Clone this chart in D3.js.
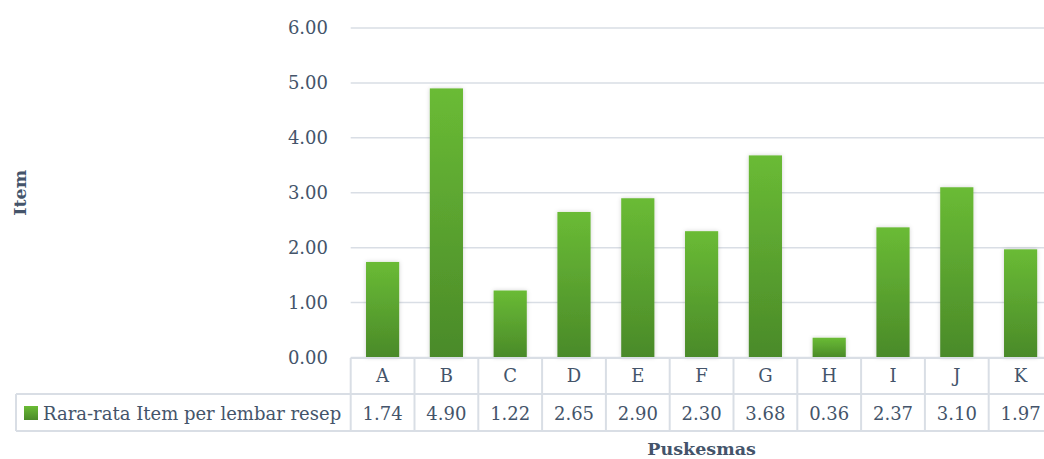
<!DOCTYPE html>
<html><head><meta charset="utf-8">
<script src="https://cdn.jsdelivr.net/npm/d3@7"></script>
<style>
html,body{margin:0;padding:0;background:#fff;overflow:hidden}
svg{display:block}
text{font-family:"Palatino Linotype","Book Antiqua",Palatino,"DejaVu Serif",serif;fill:#44546a}
</style></head><body>
<svg id="c" width="1044" height="459"></svg>
<script>
const categories = ["A","B","C","D","E","F","G","H","I","J","K"];
const values = [1.74,4.90,1.22,2.65,2.90,2.30,3.68,0.36,2.37,3.10,1.97];
const yTicks = [0,1,2,3,4,5,6];
const seriesName = "Rara-rata Item per lembar resep";
const yTitle = "Item";
const xTitle = "Puskesmas";

const svg = d3.select("#c");
const FS = 18;
const pL = 350.7, pR = 1052.5, pT = 28, pB = 357.5;
const x = d3.scaleBand().domain(categories).range([pL, pR]).paddingInner(0.48).paddingOuter(0.24);
const xc = d3.scaleBand().domain(categories).range([pL, pR]);
const y = d3.scaleLinear().domain([0,6]).range([pB, pT]);
const grid = "#d9dee5";

const defs = svg.append("defs");
const g = defs.append("linearGradient").attr("id","bg").attr("x1",0).attr("y1",0).attr("x2",0).attr("y2",1);
g.append("stop").attr("offset","0%").attr("stop-color","#6abb35");
g.append("stop").attr("offset","100%").attr("stop-color","#4a8a29");
const f = defs.append("filter").attr("id","sh").attr("x","-30%").attr("y","-10%").attr("width","160%").attr("height","120%");
f.append("feDropShadow").attr("dx",0).attr("dy",0).attr("stdDeviation",2).attr("flood-color","#000").attr("flood-opacity",0.18);

svg.append("g").selectAll("line").data(yTicks).join("line")
  .attr("x1", pL).attr("x2", pR).attr("y1", d=>y(d)).attr("y2", d=>y(d))
  .attr("stroke", grid).attr("stroke-width", 1.5);
svg.append("g").selectAll("text").data(yTicks).join("text")
  .attr("x", 328).attr("y", d=>y(d)).attr("dy","0.35em").attr("text-anchor","end")
  .attr("font-size", FS).text(d=>d3.format(".2f")(d));

svg.append("g").selectAll("rect").data(values).join("rect")
  .attr("x", (d,i)=>x(categories[i])).attr("width", x.bandwidth())
  .attr("y", d=>y(d)).attr("height", d=>y(0)-y(d))
  .attr("fill","url(#bg)").attr("filter","url(#sh)");

const r1 = 358, r2 = 394, r3 = 431, legL = 16;
const tb = svg.append("g").attr("stroke", grid).attr("stroke-width", 2).attr("fill","none");
tb.append("line").attr("x1", pL).attr("x2", pR).attr("y1", r1).attr("y2", r1);
tb.append("line").attr("x1", legL).attr("x2", pR).attr("y1", r2).attr("y2", r2);
tb.append("line").attr("x1", legL).attr("x2", pR).attr("y1", r3).attr("y2", r3);
tb.append("line").attr("x1", legL).attr("x2", legL).attr("y1", r2).attr("y2", r3);
tb.selectAll("line.v").data(categories.concat(["_end"])).join("line").attr("class","v")
  .attr("x1", (d,i)=> i<categories.length ? xc(d) : pR)
  .attr("x2", (d,i)=> i<categories.length ? xc(d) : pR)
  .attr("y1", r1).attr("y2", r3);

svg.append("g").selectAll("text").data(categories).join("text")
  .attr("x", d=>xc(d)+xc.bandwidth()/2).attr("y", 382).attr("text-anchor","middle")
  .attr("font-size", FS).text(d=>d);
svg.append("g").selectAll("text").data(values).join("text")
  .attr("x", (d,i)=>xc(categories[i])+xc.bandwidth()/2).attr("y", 420).attr("text-anchor","middle")
  .attr("font-size", FS).text(d=>d3.format(".2f")(d));

svg.append("rect").attr("x",24).attr("y",406).attr("width",14).attr("height",14).attr("fill","url(#bg)");
svg.append("text").attr("x",43).attr("y",420).attr("font-size",FS).text(seriesName);

svg.append("text").attr("transform",`translate(26,${(pT+pB)/2}) rotate(-90)`)
  .attr("text-anchor","middle").attr("font-weight","bold").attr("font-size",17.5).text(yTitle);
svg.append("text").attr("x",(pL+pR)/2).attr("y",455).attr("text-anchor","middle")
  .attr("font-weight","bold").attr("font-size",17.5).text(xTitle);
</script>
</body></html>
